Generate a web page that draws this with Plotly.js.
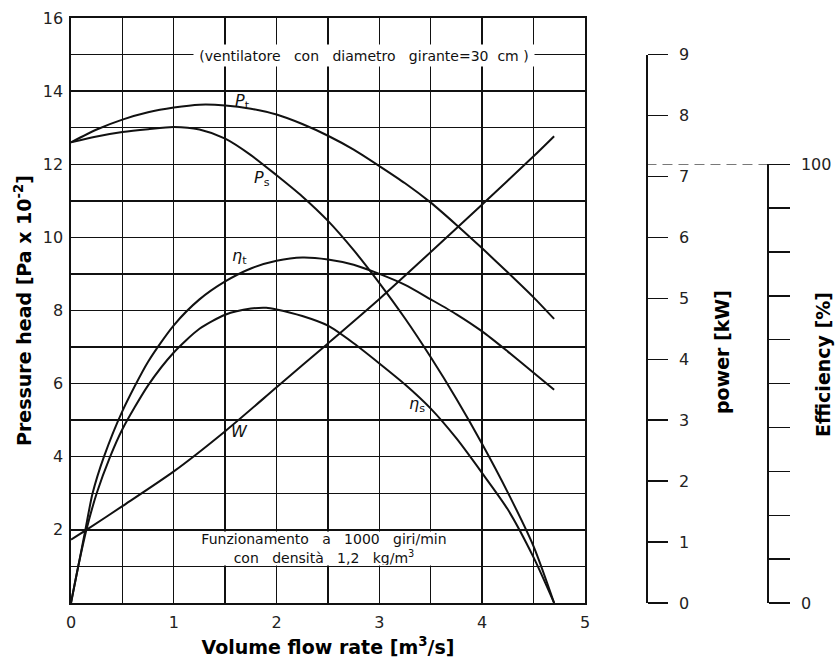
<!DOCTYPE html>
<html><head><meta charset="utf-8">
<script src="https://cdn.plot.ly/plotly-3.0.1.min.js"></script>
<style>html,body{margin:0;padding:0;background:#fff}#chart{width:838px;height:666px}</style>
</head><body><div id="chart"></div>
<script>
// Volume flow rate [m3/s]
const flowP = [0, 0.25, 0.5, 0.75, 1.0, 1.25, 1.5, 1.75, 2.0, 2.25, 2.5, 2.75, 3.0, 3.25, 3.5, 3.75, 4.0, 4.25, 4.5, 4.7];
// Total pressure Pt [Pa x 10^-2]
const pressureTotal = [12.6, 12.95, 13.22, 13.42, 13.55, 13.63, 13.61, 13.52, 13.36, 13.1, 12.78, 12.4, 11.95, 11.48, 10.95, 10.34, 9.7, 9.04, 8.36, 7.77];
// Static pressure Ps [Pa x 10^-2]
const pressureStatic = [12.6, 12.76, 12.88, 12.96, 13.02, 12.95, 12.7, 12.25, 11.7, 11.12, 10.45, 9.65, 8.75, 7.78, 6.72, 5.58, 4.35, 3.02, 1.55, 0];
// Total efficiency eta_t [%]
const flowEtaT = [0, 0.07, 0.14, 0.21, 0.32, 0.5, 0.75, 1.0, 1.25, 1.5, 1.75, 2.0, 2.25, 2.5, 2.75, 3.0, 3.25, 3.5, 3.75, 4.0, 4.25, 4.5, 4.7];
const effTotal = [0, 8.3, 16.7, 25.0, 33.3, 43.75, 55.0, 63.3, 69.2, 73.3, 76.25, 78.0, 78.75, 78.3, 77.1, 75.0, 72.5, 69.2, 65.8, 61.9, 57.3, 52.5, 48.6];
// Static efficiency eta_s [%]
const flowEtaS = [0, 0.07, 0.15, 0.25, 0.38, 0.5, 0.75, 1.0, 1.25, 1.5, 1.75, 1.9, 2.0, 2.25, 2.5, 2.75, 3.0, 3.25, 3.5, 3.75, 4.0, 4.25, 4.5, 4.7];
const effStatic = [0, 8.3, 16.7, 25.0, 33.3, 39.6, 49.6, 57.1, 62.5, 65.7, 67.1, 67.3, 66.9, 65.4, 63.2, 59.2, 54.6, 49.8, 44.3, 37.5, 29.6, 21.3, 10.4, 0];
// Power W [kW]
const flowW = [0, 0.15, 0.5, 1.0, 1.5, 2.0, 2.5, 3.0, 3.5, 4.0, 4.5, 4.7];
const powerKW = [1.04, 1.2, 1.59, 2.16, 2.82, 3.54, 4.26, 4.99, 5.76, 6.54, 7.33, 7.66];

// Tick labels
const yTickVals = [2, 4, 6, 8, 10, 12, 14, 16];
const powerTickVals = [0, 1, 2, 3, 4, 5, 6, 7, 8, 9];
const effTickVals = [0, 100];

const ink = '#111';
const lineStyle = {color: ink, width: 2, shape: 'spline', smoothing: 0.7};
const traces = [
  {x: flowP, y: pressureTotal, type: 'scatter', mode: 'lines', line: lineStyle, xaxis: 'x', yaxis: 'y', hoverinfo: 'skip'},
  {x: flowP, y: pressureStatic, type: 'scatter', mode: 'lines', line: lineStyle, xaxis: 'x', yaxis: 'y', hoverinfo: 'skip'},
  {x: flowEtaT, y: effTotal, type: 'scatter', mode: 'lines', line: lineStyle, xaxis: 'x', yaxis: 'y3', hoverinfo: 'skip'},
  {x: flowEtaS, y: effStatic, type: 'scatter', mode: 'lines', line: lineStyle, xaxis: 'x', yaxis: 'y3', hoverinfo: 'skip'},
  {x: flowW, y: powerKW, type: 'scatter', mode: 'lines', line: lineStyle, xaxis: 'x', yaxis: 'y2', hoverinfo: 'skip'}
];

const tickFont = {family: 'DejaVu Sans, sans-serif', size: 16, color: '#222'};
const titleFont = {family: 'DejaVu Sans, sans-serif', size: 19, color: '#000'};
const noteFont = {family: 'DejaVu Sans, sans-serif', size: 14, color: '#111'};
const labelFont = {family: 'DejaVu Sans, sans-serif', size: 16, color: '#111'};
const gridStyle = {showgrid: true, gridcolor: ink, gridwidth: 1.4};
const S = '\u00a0';

const layout = {
  width: 838, height: 666,
  margin: {l: 71, r: 0, t: 18, b: 63},
  paper_bgcolor: '#fff', plot_bgcolor: 'rgba(0,0,0,0)',
  showlegend: false,
  font: {family: 'DejaVu Sans, sans-serif', color: ink},
  xaxis: {
    domain: [0, 0.6701], range: [0, 5], tickmode: 'linear', tick0: 0, dtick: 1,
    showgrid: true, gridcolor: ink, gridwidth: 1.4, zeroline: false,
    minor: Object.assign({tickmode: 'linear', tick0: 0, dtick: 0.5}, gridStyle),
    showline: true, mirror: true, linecolor: ink, linewidth: 1.6, ticks: '',
    tickfont: tickFont, ticklabelstandoff: 4, automargin: false,
    title: {text: '<b>Volume flow rate [m<sup>3</sup>/s]</b>', font: titleFont, standoff: 10}
  },
  yaxis: {
    domain: [0, 1], range: [0, 16], tickmode: 'array', tickvals: yTickVals,
    showgrid: true, gridcolor: ink, gridwidth: 1.4, zeroline: false,
    minor: Object.assign({tickmode: 'linear', tick0: 0, dtick: 1}, gridStyle),
    showline: true, mirror: true, linecolor: ink, linewidth: 1.6, ticks: '',
    tickfont: tickFont, ticklabelstandoff: 3, automargin: false,
    title: {text: '<b>Pressure head [Pa x 10<sup>-2</sup>]</b>', font: titleFont, standoff: 6}
  },
  yaxis2: {
    domain: [0, 15/16], range: [0, 9], anchor: 'free', position: 0.7503, side: 'right',
    tickmode: 'array', tickvals: powerTickVals, showgrid: false, zeroline: false,
    showline: true, linecolor: ink, linewidth: 1.4, ticks: 'outside', ticklen: 20, tickwidth: 1.4, tickcolor: ink,
    tickfont: tickFont, ticklabelstandoff: 8, automargin: false
  },
  yaxis3: {
    domain: [0, 0.75], range: [0, 100], anchor: 'free', position: 0.9078, side: 'right',
    tickmode: 'array', tickvals: effTickVals, showgrid: false, zeroline: false,
    minor: {tickmode: 'linear', tick0: 0, dtick: 10, ticks: 'outside', ticklen: 21, tickwidth: 1.4, tickcolor: ink, showgrid: false},
    showline: true, linecolor: ink, linewidth: 1.4, ticks: 'outside', ticklen: 21, tickwidth: 1.4, tickcolor: ink,
    tickfont: tickFont, ticklabelstandoff: 8, automargin: false
  },
  shapes: [
    {type: 'line', xref: 'paper', yref: 'y3', x0: 0.7503, x1: 0.9078, y0: 100, y1: 100,
     line: {color: ink, width: 1.2, dash: '10px,6px'}}
  ],
  annotations: [
    {xref: 'x', yref: 'y', x: 2.85, y: 14.97,
     text: '(ventilatore' + S + S + ' con' + S + S + ' diametro' + S + S + ' girante=30' + S + ' cm )',
     showarrow: false, bgcolor: '#fff', font: noteFont, width: 340, height: 21, borderpad: 0},
    {xref: 'x', yref: 'y', x: 2.466, y: 1.5,
     text: 'Funzionamento' + S + S + ' a' + S + S + ' 1000' + S + S + ' giri/min<br>con' + S + S + ' densità' + S + S + ' 1,2' + S + S + ' kg/m<sup>3</sup>',
     showarrow: false, bgcolor: '#fff', font: noteFont, width: 262, height: 33, borderpad: 0},
    {xref: 'x', yref: 'y', x: 1.67, y: 13.73, text: '<i>P</i><sub>t</sub>', showarrow: false, font: labelFont},
    {xref: 'x', yref: 'y', x: 1.86, y: 11.62, text: '<i>P</i><sub>s</sub>', showarrow: false, font: labelFont},
    {xref: 'x', yref: 'y', x: 1.64, y: 9.49, text: '<i>η</i><sub>t</sub>', showarrow: false, font: labelFont},
    {xref: 'x', yref: 'y', x: 3.37, y: 5.42, text: '<i>η</i><sub>s</sub>', showarrow: false, font: labelFont},
    {xref: 'x', yref: 'y', x: 1.64, y: 4.68, text: '<i>W</i>', showarrow: false, font: labelFont},
    {xref: 'paper', yref: 'paper', x: 0.8488, y: 0.429, text: '<b>power [kW]</b>', textangle: -90,
     showarrow: false, font: titleFont, xanchor: 'center', yanchor: 'middle'},
    {xref: 'paper', yref: 'paper', x: 0.9805, y: 0.4068, text: '<b>Efficiency [%]</b>', textangle: -90,
     showarrow: false, font: titleFont, xanchor: 'center', yanchor: 'middle'}
  ]
};

Plotly.newPlot('chart', traces, layout, {staticPlot: true, displayModeBar: false});
</script>
</body></html>
